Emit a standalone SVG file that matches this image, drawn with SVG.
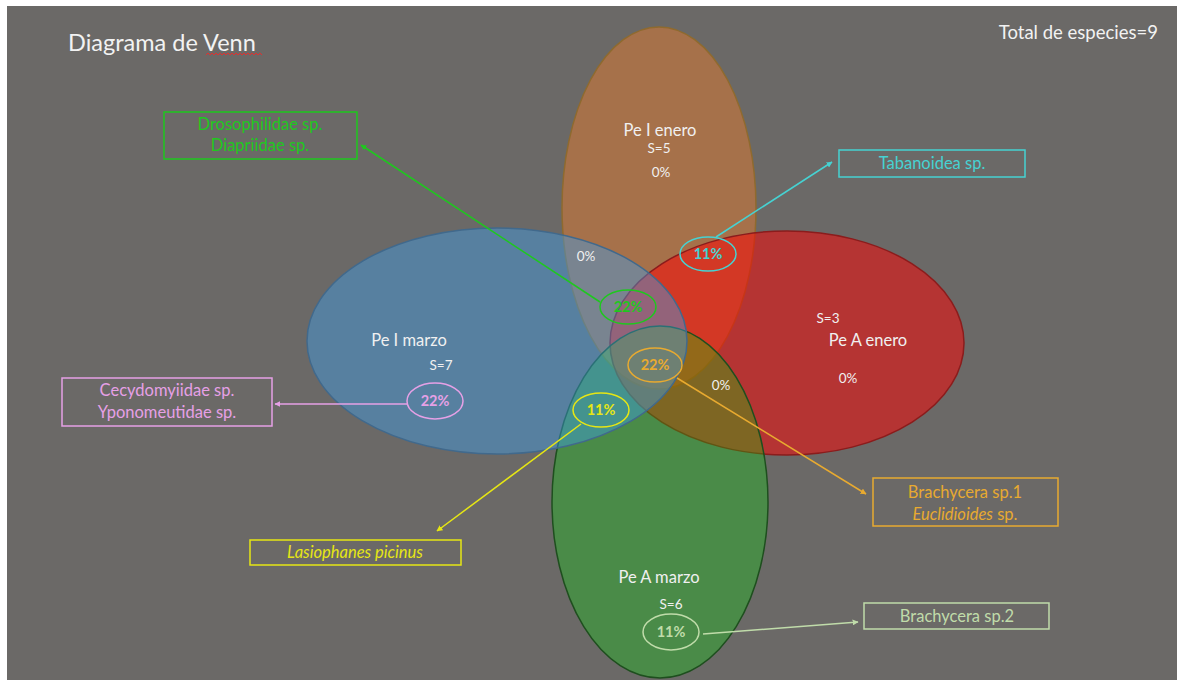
<svg xmlns="http://www.w3.org/2000/svg" width="1177" height="680" viewBox="0 0 1177 680">
<defs>
<style>
text{font-family:Lato,"Open Sans","Liberation Sans",sans-serif;}
.w{fill:#f0f0f0;font-size:16.5px;text-anchor:middle;}
.ws{fill:#f0f0f0;font-size:13.5px;text-anchor:middle;}
.pct{font-size:14.5px;text-anchor:middle;font-weight:bold;}
.lbl{font-size:16.5px;text-anchor:middle;}
.box{fill:none;stroke-width:1.5;}
.ln{fill:none;stroke-width:1.5;}
</style>
<marker id="aGreen" viewBox="0 0 10 10" refX="9" refY="5" markerWidth="4" markerHeight="4" orient="auto"><path d="M0,0 L10,5 L0,10 z" fill="#1ec81e"/></marker>
<marker id="aCyan" viewBox="0 0 10 10" refX="9" refY="5" markerWidth="4" markerHeight="4" orient="auto"><path d="M0,0 L10,5 L0,10 z" fill="#46d2d2"/></marker>
<marker id="aPink" viewBox="0 0 10 10" refX="9" refY="5" markerWidth="4" markerHeight="4" orient="auto"><path d="M0,0 L10,5 L0,10 z" fill="#e6a0e6"/></marker>
<marker id="aYel" viewBox="0 0 10 10" refX="9" refY="5" markerWidth="4" markerHeight="4" orient="auto"><path d="M0,0 L10,5 L0,10 z" fill="#e6e614"/></marker>
<marker id="aOr" viewBox="0 0 10 10" refX="9" refY="5" markerWidth="4" markerHeight="4" orient="auto"><path d="M0,0 L10,5 L0,10 z" fill="#e8aa30"/></marker>
<marker id="aLg" viewBox="0 0 10 10" refX="9" refY="5" markerWidth="4" markerHeight="4" orient="auto"><path d="M0,0 L10,5 L0,10 z" fill="#c0dcaa"/></marker>
</defs>
<rect x="0" y="0" width="1177" height="680" fill="#ffffff"/>
<rect x="7" y="6" width="1170" height="674" fill="#6b6967"/>

<text x="68" y="51" style="font-size:23.5px;fill:#f2f2f2">Diagrama de Venn</text>
<polyline points="206,55 208,53 210,55 212,53 214,55 216,53 218,55 220,53 222,55 224,53 226,55 228,53 230,55 232,53 234,55 236,53 238,55 240,53 242,55 244,53 246,55 248,53 250,55 252,53 254,55 256,53 258,55 260,53 262,55" fill="none" stroke="#e03030" stroke-width="1"/>
<text x="1158" y="39" style="font-size:18.5px;fill:#f2f2f2;text-anchor:end">Total de especies=9</text>

<g id="set-pe-i-enero">
<ellipse cx="659" cy="208" rx="97" ry="181" fill="#a6714a" stroke="#8f6a2e" stroke-width="1.5"/>
</g>
<g id="set-pe-a-enero">
<ellipse cx="787" cy="343" rx="177" ry="112" fill="#ff0000" fill-opacity="0.5" stroke="#8b1c1c" stroke-width="1.5"/>
</g>
<g id="set-pe-a-marzo">
<ellipse cx="660" cy="502" rx="108" ry="176" fill="#00dc00" fill-opacity="0.3" stroke="#1e4f1e" stroke-width="1.5"/>
</g>
<g id="set-pe-i-marzo">
<ellipse cx="497" cy="341" rx="190" ry="113" fill="#3ca0f0" fill-opacity="0.42" stroke="#41698c" stroke-width="1.5"/>
</g>

<g id="set-labels">
<text class="w" x="660" y="136">Pe I enero</text>
<text class="ws" x="659" y="153">S=5</text>
<text class="ws" x="661" y="177">0%</text>
<text class="w" x="409" y="346">Pe I marzo</text>
<text class="ws" x="441" y="370">S=7</text>
<text class="w" x="868" y="346">Pe A enero</text>
<text class="ws" x="828" y="323">S=3</text>
<text class="ws" x="848" y="383">0%</text>
<text class="w" x="659" y="583">Pe A marzo</text>
<text class="ws" x="671" y="609">S=6</text>
<text class="ws" x="586" y="261">0%</text>
<text class="ws" x="721" y="390">0%</text>
</g>

<g id="connectors">
<line class="ln" x1="600" y1="302" x2="361" y2="145" stroke="#1ec81e" marker-end="url(#aGreen)"/>
<line class="ln" x1="716" y1="237" x2="832" y2="162" stroke="#46d2d2" marker-end="url(#aCyan)"/>
<line class="ln" x1="407" y1="404" x2="275" y2="404" stroke="#e6a0e6" marker-end="url(#aPink)"/>
<line class="ln" x1="581" y1="424" x2="437" y2="531" stroke="#e6e614" marker-end="url(#aYel)"/>
<line class="ln" x1="677" y1="378" x2="866" y2="494" stroke="#e8aa30" marker-end="url(#aOr)"/>
<line class="ln" x1="703" y1="634" x2="858" y2="622" stroke="#c0dcaa" marker-end="url(#aLg)"/>
</g>

<g id="pct-tabanoidea">
<ellipse cx="708" cy="254" rx="28" ry="17" class="box" stroke="#46d2d2"/>
<text class="pct" x="708" y="259" fill="#46d2d2">11%</text>
</g>
<g id="pct-drosophilidae">
<ellipse cx="628" cy="307" rx="28" ry="17" class="box" stroke="#1ec81e"/>
<text class="pct" x="628" y="312" fill="#1ec81e">22%</text>
</g>
<g id="pct-brachycera1">
<ellipse cx="655" cy="365" rx="27" ry="17" class="box" stroke="#e8aa30"/>
<text class="pct" x="655" y="370" fill="#e8aa30">22%</text>
</g>
<g id="pct-lasiophanes">
<ellipse cx="601" cy="410" rx="28" ry="17" class="box" stroke="#e6e614"/>
<text class="pct" x="601" y="415" fill="#e6e614">11%</text>
</g>
<g id="pct-cecydomyiidae">
<ellipse cx="435" cy="401" rx="28" ry="18" class="box" stroke="#e6a0e6"/>
<text class="pct" x="435" y="406" fill="#e6a0e6">22%</text>
</g>
<g id="pct-brachycera2">
<ellipse cx="671" cy="632" rx="28" ry="18" class="box" stroke="#c0dcaa"/>
<text class="pct" x="671" y="637" fill="#c0dcaa">11%</text>
</g>

<g id="box-drosophilidae">
<rect class="box" x="164" y="112" width="193" height="47" stroke="#1ec81e"/>
<text class="lbl" x="260" y="130" fill="#1ec81e">Drosophilidae sp.</text>
<text class="lbl" x="260" y="151" fill="#1ec81e">Diapriidae sp.</text>
</g>
<g id="box-tabanoidea">
<rect class="box" x="839" y="150" width="186" height="27" stroke="#46d2d2"/>
<text class="lbl" x="932" y="169" fill="#46d2d2">Tabanoidea sp.</text>
</g>
<g id="box-cecydomyiidae">
<rect class="box" x="62" y="378" width="210" height="48" stroke="#e6a0e6"/>
<text class="lbl" x="167" y="396" fill="#e6a0e6">Cecydomyiidae sp.</text>
<text class="lbl" x="167" y="418" fill="#e6a0e6">Yponomeutidae sp.</text>
</g>
<g id="box-brachycera1">
<rect class="box" x="873" y="478" width="185" height="48" stroke="#e8aa30"/>
<text class="lbl" x="965" y="498" fill="#e8aa30">Brachycera sp.1</text>
<text class="lbl" x="965" y="520" fill="#e8aa30"><tspan font-style="italic">Euclidioides</tspan> sp.</text>
</g>
<g id="box-lasiophanes">
<rect class="box" x="250" y="540" width="211" height="25" stroke="#e6e614"/>
<text class="lbl" x="355" y="558" fill="#e6e614" font-style="italic">Lasiophanes picinus</text>
</g>
<g id="box-brachycera2">
<rect class="box" x="864" y="603" width="185" height="26" stroke="#c0dcaa"/>
<text class="lbl" x="957" y="622" fill="#c0dcaa">Brachycera sp.2</text>
</g>
</svg>
